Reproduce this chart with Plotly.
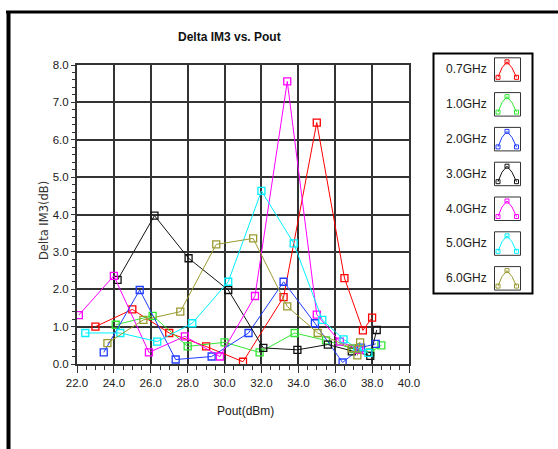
import plotly.graph_objects as go

# ---------------- data ----------------
series_names = ["0.7GHz", "1.0GHz", "2.0GHz", "3.0GHz", "4.0GHz", "5.0GHz", "6.0GHz"]

x_07 = [23.0, 25.0, 27.0, 29.0, 31.0, 33.2, 35.0, 36.5, 37.5, 38.0]
y_07 = [1.0, 1.46, 0.83, 0.47, 0.06, 1.79, 6.46, 2.3, 0.9, 1.24]

x_10 = [24.1, 26.1, 28.0, 30.0, 31.9, 33.8, 35.5, 37.0, 37.9, 38.5]
y_10 = [1.05, 1.29, 0.47, 0.58, 0.31, 0.83, 0.63, 0.4, 0.31, 0.5]

x_20 = [23.45, 25.4, 27.35, 29.3, 31.3, 33.2, 34.9, 36.4, 37.4, 38.2]
y_20 = [0.31, 1.98, 0.12, 0.2, 0.83, 2.2, 1.09, 0.04, 0.44, 0.54]

x_30 = [24.2, 26.2, 28.05, 30.2, 32.1, 33.95, 35.6, 36.9, 37.9, 38.25]
y_30 = [2.25, 3.97, 2.83, 1.98, 0.43, 0.38, 0.52, 0.34, 0.22, 0.91]

x_40 = [22.1, 24.0, 25.9, 27.85, 29.75, 31.65, 33.4, 35.0, 36.25, 37.3]
y_40 = [1.31, 2.36, 0.31, 0.74, 0.2, 1.82, 7.56, 1.32, 0.6, 0.38]

x_50 = [22.45, 24.35, 26.35, 28.25, 30.2, 32.0, 33.75, 35.3, 36.45, 37.2, 37.8]
y_50 = [0.83, 0.83, 0.6, 1.09, 2.2, 4.63, 3.23, 1.18, 0.66, 0.42, 0.3]

x_60 = [23.65, 25.6, 27.6, 29.55, 31.55, 33.4, 35.05, 36.9, 37.35, 37.2]
y_60 = [0.56, 1.18, 1.4, 3.2, 3.36, 1.54, 0.83, 0.42, 0.58, 0.23]

xs = [x_07, x_10, x_20, x_30, x_40, x_50, x_60]
ys = [y_07, y_10, y_20, y_30, y_40, y_50, y_60]
colors = ["#ff0000", "#33e633", "#1f3cff", "#111111", "#ff00ff", "#00f0ff", "#9a9a30"]

x_ticks = [22, 24, 26, 28, 30, 32, 34, 36, 38, 40]
y_ticks = [0, 1, 2, 3, 4, 5, 6, 7, 8]

# ---------------- layout geometry ----------------
W, H = 558, 449
L, R, T, B = 77, 149, 65, 85
PW, PH = W - L - R, H - T - B


def px(x):
    return (x - L) / PW


def py(y):
    return (H - B - y) / PH


FONT = "Liberation Sans"
TXT = "#222018"

fig = go.Figure()
for name, x, y, c in zip(series_names, xs, ys, colors):
    fig.add_trace(go.Scatter(
        x=x, y=y, name=name, mode="lines+markers",
        line=dict(color=c, width=1),
        marker=dict(symbol="square-open", size=7, color=c, line=dict(width=1.3, color=c)),
        showlegend=False,
    ))

axis_common = dict(
    showline=True, mirror=True, linecolor="#333333", linewidth=2,
    showgrid=True, gridcolor="#333333", gridwidth=2,
    zeroline=False, ticks="outside", tickcolor="#333333",
    tickfont=dict(family=FONT, size=11.5, color=TXT),
    tickformat=".1f",
)

fig.update_xaxes(range=[22, 40], tickvals=x_ticks, ticklen=7,
                 minor=dict(dtick=0.5, tick0=22, ticks="outside", ticklen=4,
                            tickcolor="#333333", showgrid=False),
                 **axis_common)
fig.update_yaxes(range=[0, 8], tickvals=y_ticks, ticklen=4,
                 minor=dict(dtick=0.2, tick0=0, ticks="outside", ticklen=3,
                            tickcolor="#333333", showgrid=False),
                 **axis_common)

shapes = []
annotations = []


def note(text, x, y, size=12, family=FONT, color=TXT, angle=0):
    annotations.append(dict(text=text, xref="paper", yref="paper",
                            x=px(x), y=py(y), xanchor="center", yanchor="middle",
                            showarrow=False, textangle=angle,
                            font=dict(family=family, size=size, color=color)))


# outer frame
shapes.append(dict(type="line", xref="paper", yref="paper",
                   x0=px(6), x1=px(W + 5), y0=py(12), y1=py(12),
                   line=dict(color="black", width=3)))
shapes.append(dict(type="line", xref="paper", yref="paper",
                   x0=px(8.5), x1=px(8.5), y0=py(11), y1=py(H + 5),
                   line=dict(color="black", width=4)))

# title and axis titles
note("<b>Delta IM3 vs. Pout</b>", 229, 37, size=12, color="#111")
note("Pout(dBm)", 245, 411, size=12)
note("Delta IM3(dB)", 44, 221, size=11.5, family="DejaVu Sans", color="#333", angle=-90)

# custom legend
shapes.append(dict(type="rect", xref="paper", yref="paper",
                   x0=px(433.5), x1=px(532.5), y0=py(53.5), y1=py(293.5),
                   line=dict(color="black", width=2), fillcolor="white"))
for i, (name, c) in enumerate(zip(series_names, colors)):
    cy = 69.3 + 34.8 * i
    note(name, 466, cy, size=12)
    shapes.append(dict(type="rect", xref="paper", yref="paper",
                       x0=px(494.5), x1=px(520.5), y0=py(cy - 11.5), y1=py(cy + 12),
                       line=dict(color="#333", width=1)))
    pts = [(498, cy + 8), (502, cy - 1.5), (507, cy - 7.5), (512, cy - 1.5), (516.5, cy + 8)]
    path = "M " + " L ".join(f"{px(a):.5f},{py(b):.5f}" for a, b in pts)
    shapes.append(dict(type="path", xref="paper", yref="paper", path=path,
                       line=dict(color=c, width=1)))
    for (a, b) in [pts[0], pts[2], pts[4]]:
        shapes.append(dict(type="rect", xref="paper", yref="paper",
                           x0=px(a - 2), x1=px(a + 2), y0=py(b - 2), y1=py(b + 2),
                           line=dict(color=c, width=1)))

fig.update_layout(
    width=W, height=H,
    margin=dict(l=L, r=R, t=T, b=B),
    paper_bgcolor="white", plot_bgcolor="white",
    shapes=shapes, annotations=annotations,
    showlegend=False,
)

fig.write_html("out.html", config={"displayModeBar": False},
               post_script="document.body.style.margin='0';")
